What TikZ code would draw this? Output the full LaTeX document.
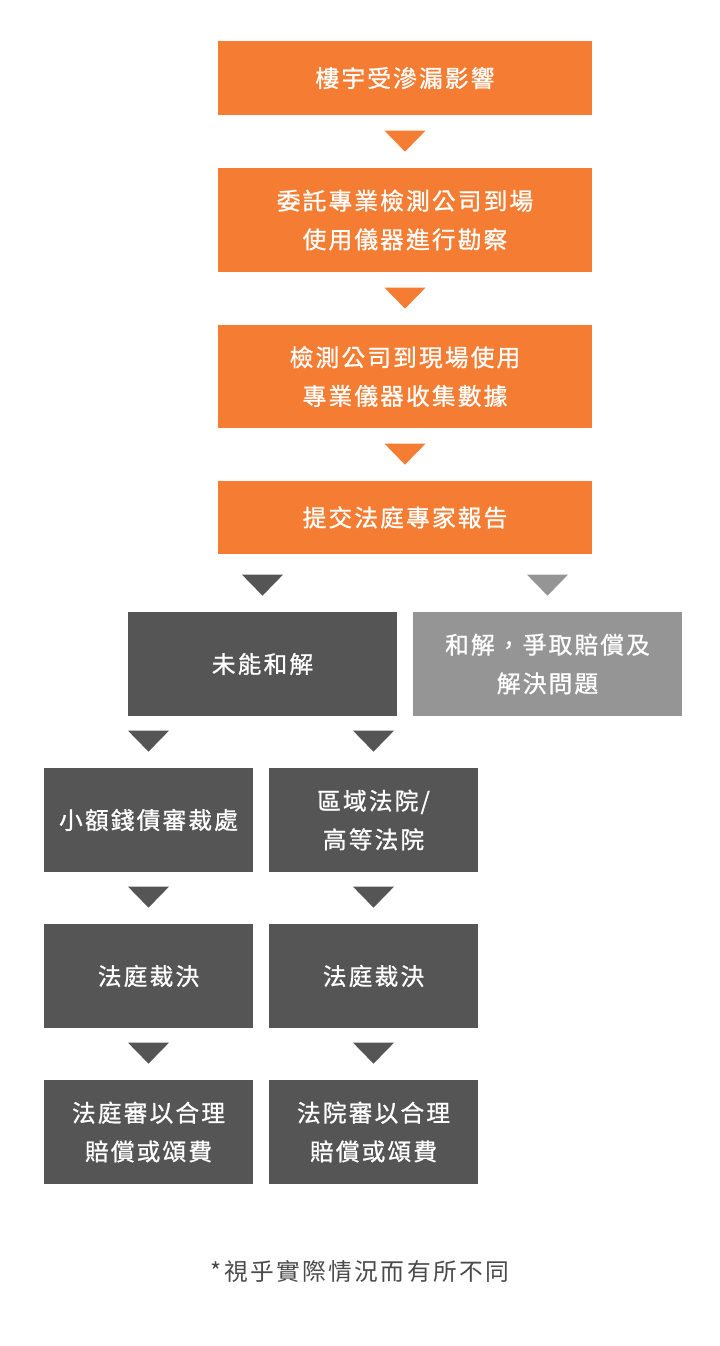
\documentclass[tikz,border=0pt]{standalone}
\usepackage{fontspec}
\usepackage{xcolor}
\usetikzlibrary{shapes,arrows,positioning,calc}
\newfontfamily\cjk[LetterSpace=9,FakeBold=0.9]{Noto Sans CJK TC}
\newfontfamily\cjknote[LetterSpace=10]{Noto Sans CJK TC}
\definecolor{flowOrange}{HTML}{F47D33}
\definecolor{flowDark}{HTML}{555555}
\definecolor{flowLight}{HTML}{959595}
\definecolor{noteGray}{HTML}{4A4A4A}
% triangle pointing down onto a node
\newcommand\pointer[2]{\fill[#2] ($(#1.north)+(0,0.53)$) +(-0.41,0.21) -- +(0.41,0.21) -- +(0,-0.21) -- cycle;}

\begin{document}
\begin{tikzpicture}
  \tikzstyle{box}=[rectangle, inner sep=0pt, align=center, text=white, font=\cjk\fontsize{13.5}{22}\selectfont]
  \tikzstyle{wide}=[box, fill=flowOrange, minimum width=7.48cm]
  \tikzstyle{half}=[box, minimum width=5.38cm, minimum height=2.08cm]
  \tikzstyle{col}=[box, fill=flowDark, minimum width=4.18cm, minimum height=2.08cm]

  \useasboundingbox (0,0) rectangle (14.40,-26.92);

  % Pasos principales
  \node[wide, minimum height=1.48cm] (leak) at (8.10,-1.56) {樓宇受滲漏影響};
  \node[wide, minimum height=2.08cm] (hire) at (8.10,-4.40) {委託專業檢測公司到場\\使用儀器進行勘察};
  \node[wide, minimum height=2.06cm] (data) at (8.10,-7.53) {檢測公司到現場使用\\專業儀器收集數據};
  \node[wide, minimum height=1.46cm] (report) at (8.10,-10.35) {提交法庭專家報告};

  % Dos caminos
  \node[half, fill=flowDark] (fail) at (5.25,-13.28) {未能和解};
  \node[half, fill=flowLight] (settle) at (10.95,-13.28) {和解，爭取賠償及\\解決問題};

  % Columnas
  \node[col] (small) at (2.97,-16.40) {小額錢債審裁處};
  \node[col] (court) at (7.47,-16.40) {區域法院/\\高等法院};
  \node[col] (ruleA) at (2.97,-19.52) {法庭裁決};
  \node[col] (ruleB) at (7.47,-19.52) {法庭裁決};
  \node[col] (payA) at (2.97,-22.64) {法庭審以合理\\賠償或頌費};
  \node[col] (payB) at (7.47,-22.64) {法院審以合理\\賠償或頌費};

  \node[text=noteGray, font=\cjknote\fontsize{13.5}{16}\selectfont] (note) at (7.20,-25.44) {*視乎實際情況而有所不同};

  % Flechas
  \pointer{hire}{flowOrange}
  \pointer{data}{flowOrange}
  \pointer{report}{flowOrange}
  \pointer{fail}{flowDark}
  \pointer{settle}{flowLight}
  \pointer{small}{flowDark}
  \pointer{court}{flowDark}
  \pointer{ruleA}{flowDark}
  \pointer{ruleB}{flowDark}
  \pointer{payA}{flowDark}
  \pointer{payB}{flowDark}
\end{tikzpicture}
\end{document}
